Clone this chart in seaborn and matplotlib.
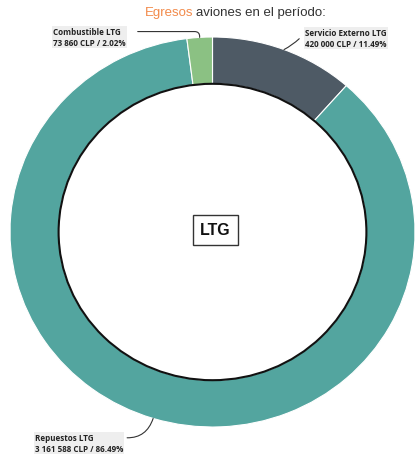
import matplotlib
matplotlib.use("Agg")
import matplotlib.pyplot as plt
import seaborn as sns
import numpy as np

# data
categories = ["Servicio Externo LTG", "Repuestos LTG", "Combustible LTG"]
values = [420000, 3161588, 73860]
colors = ["#4e5a65", "#53a59f", "#8bc183"]
center_label = "LTG"

sns.set_theme(style="white")
plt.rcParams['font.family'] = ['Open Sans', 'DejaVu Sans']

W, H = 417, 460
fig = plt.figure(figsize=(W / 100, H / 100), dpi=100)
# donut is slightly elliptical in the reference
cx, cy, rx, ry = 212.5, 233, 202.5, 195
ax = fig.add_axes([(cx - rx) / W, (H - cy - ry) / H, 2 * rx / W, 2 * ry / H])

ring = 0.24
wedges, _ = ax.pie(values, colors=colors, startangle=90, counterclock=False,
                   radius=1, wedgeprops=dict(width=ring, edgecolor='white', linewidth=0.8))
ax.set_aspect('auto')
ax.set_xlim(-1, 1)
ax.set_ylim(-1, 1)
ax.axis('off')
ax.add_patch(plt.Circle((0, 0), 1 - ring, fill=False, ec='#111111', lw=1.5))

total = sum(values)
def fmt(v):
    return f"{v:,}".replace(",", " ")

# label positions (figure pixels from top-left), leader style, anchor on text
label_pos = {
    "Servicio Externo LTG": (305, 39, "arc3,rad=-0.1", (0.0, 0.78), 5),
    "Repuestos LTG": (35, 444, "arc3,rad=0.4", (1.0, 0.78), 2),
    "Combustible LTG": (53, 38, "angle,angleA=0,angleB=90,rad=5", (1.0, 0.78), 8),
}
for w, name, v in zip(wedges, categories, values):
    ang = np.deg2rad((w.theta1 + w.theta2) / 2)
    px, py = np.cos(ang), np.sin(ang)
    lx, ly, cs, rp, sh = label_pos[name]
    txt = f"{name}\n{fmt(v)} CLP / {v / total * 100:.2f}%"
    ax.annotate(txt, xy=(px, py), xycoords='data',
                xytext=(lx, H - ly), textcoords='figure pixels',
                ha='left', va='center', fontsize=5.8, fontweight='bold', color='#222222',
                linespacing=1.2,
                bbox=dict(boxstyle='square,pad=0.12', fc='#e8e8e8', ec='none', alpha=0.7),
                arrowprops=dict(arrowstyle='-', color='#333333', lw=0.8,
                                connectionstyle=cs, shrinkA=sh, shrinkB=0,
                                relpos=rp))

fig.text(215 / W, 1 - 231 / H, center_label, ha='center', va='center', fontsize=11.5,
         fontweight='bold', family=['Liberation Sans', 'DejaVu Sans'], color='#111111',
         bbox=dict(boxstyle='square,pad=0.45', fc='white', ec='#333333', lw=1))

# title with orange first word
fig.canvas.draw()
r = fig.canvas.get_renderer()
t1 = fig.text(145 / W, 1 - 13 / H, "Egresos", color='#f28a4a', fontsize=9.5,
              family=['Liberation Sans', 'DejaVu Sans'], ha='left', va='center')
bb = t1.get_window_extent(renderer=r)
fig.text((bb.x1 + 3) / W, 1 - 13 / H, "aviones en el período:", color='#333333', fontsize=9.5,
         family=['Liberation Sans', 'DejaVu Sans'], ha='left', va='center')

fig.savefig("out.png", dpi=100)
